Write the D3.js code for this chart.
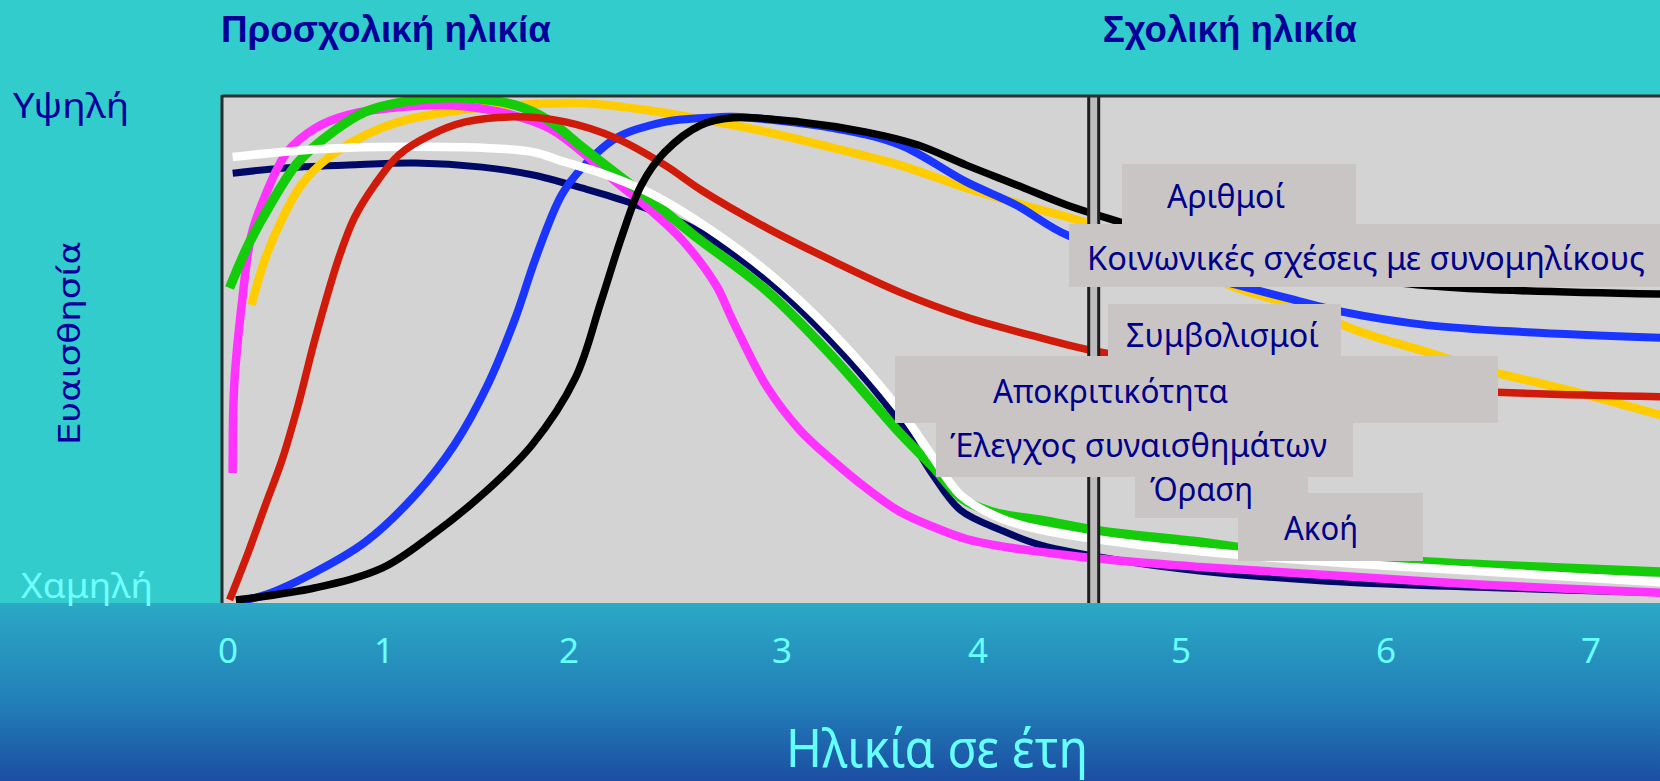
<!DOCTYPE html>
<html>
<head>
<meta charset="utf-8">
<script src="https://cdn.jsdelivr.net/npm/d3@7"></script>
<style>
html, body { margin: 0; padding: 0; overflow: hidden; background: #33cccc; }
</style>
</head>
<body>
<svg id="chart"></svg>
<script>
// ---- data (age in years, sensitivity 0 = low .. 100 = high) ----
var ageTicks = [0, 1, 2, 3, 4, 5, 6, 7];
var schoolAge = 4.57;
var periodTitles = ['Προσχολική ηλικία', 'Σχολική ηλικία'];
var levelLabels = ['Υψηλή', 'Χαμηλή'];
var yTitle = 'Ευαισθησία';
var xTitle = 'Ηλικία σε έτη';
var noteTexts = ['Αριθμοί', 'Κοινωνικές σχέσεις με συνομηλίκους', 'Συμβολισμοί',
    'Αποκριτικότητα', 'Έλεγχος συναισθημάτων', 'Όραση', 'Ακοή'];

var navy = [[0.03,84.6],[0.35,85.6],[0.77,86.2],[1.17,86.6],[1.53,85.8],[1.80,84.3],[2.06,81.7],
    [2.30,78.6],[2.58,73.8],[2.93,63.6],[3.26,51.2],[3.60,35.6],[3.77,25.2],[3.91,18.3],[4.11,14.4],
    [4.31,11.4],[4.76,8.0],[5.09,6.3],[5.71,4.3],[6.52,3.0],[7.34,2.0]];
var white = [[0.03,87.8],[0.35,88.8],[0.77,89.6],[1.17,89.8],[1.53,89.6],[1.80,88.8],[1.98,86.8],
    [2.14,84.8],[2.37,80.9],[2.58,75.8],[2.93,65.2],[3.26,53.1],[3.60,38.0],[3.77,28.7],[3.91,21.3],
    [4.11,16.7],[4.31,14.4],[4.76,11.6],[5.09,10.2],[5.71,8.1],[6.52,6.1],[7.34,4.1]];
var yellow = [[0.15,58.7],[0.24,67.9],[0.35,75.8],[0.47,82.3],[0.64,87.6],[0.88,92.1],[1.08,94.7],
    [1.35,96.7],[1.71,98.0],[2.06,98.4],[2.37,97.0],[2.69,94.7],[2.93,92.7],[3.26,89.6],[3.60,86.2],
    [3.94,81.7],[4.27,77.8],[4.52,75.0],[5.30,61.6],[5.55,58.7],[5.88,53.3],[6.20,49.4],[6.52,45.5],
    [6.85,42.3],[7.34,37.0]];
var blue = [[0.08,0.4],[0.24,1.6],[0.56,6.1],[0.88,12.0],[1.17,21.3],[1.38,31.1],[1.56,42.9],
    [1.71,56.1],[1.82,67.9],[1.96,80.3],[2.06,85.6],[2.22,91.5],[2.45,94.7],[2.65,95.5],[2.77,95.7],
    [3.26,93.5],[3.60,90.2],[3.94,82.9],[4.19,78.3],[4.44,72.4],[5.00,65.6],[5.52,60.0],[5.79,57.3],
    [6.20,54.7],[6.69,53.3],[7.34,52.2]];
var magenta = [[0.03,25.6],[0.04,42.9],[0.09,59.3],[0.15,72.4],[0.24,80.3],[0.38,88.8],[0.56,93.5],
    [0.77,96.1],[1.08,97.6],[1.35,98.0],[1.62,96.7],[1.89,93.5],[2.06,88.8],[2.22,82.9],[2.37,77.8],
    [2.53,71.5],[2.69,62.6],[2.77,55.5],[2.93,42.5],[3.09,34.1],[3.26,28.0],[3.43,22.6],[3.60,18.0],
    [3.77,15.0],[3.94,12.6],[4.11,11.2],[4.44,9.4],[4.76,8.1],[5.09,7.1],[5.71,5.5],[6.52,3.5],[7.34,2.0]];
var green = [[0.01,62.0],[0.13,70.5],[0.28,78.9],[0.45,86.8],[0.67,92.7],[0.88,96.7],[1.17,99.0],
    [1.44,99.4],[1.71,98.0],[1.89,95.0],[2.06,89.8],[2.22,84.6],[2.40,78.8],[2.58,72.6],[2.93,61.4],
    [3.26,48.4],[3.60,33.5],[3.77,26.8],[3.91,20.8],[4.07,17.9],[4.31,16.3],[4.60,14.2],[5.09,12.0],
    [5.27,11.0],[6.18,8.1],[6.85,6.9],[7.34,6.1]];
var red = [[0.01,0.6],[0.13,10.0],[0.24,19.3],[0.35,28.5],[0.45,39.0],[0.56,52.2],[0.71,67.9],
    [0.81,75.8],[0.94,82.3],[1.08,88.2],[1.25,92.1],[1.44,94.7],[1.71,95.7],[1.98,94.7],[2.22,91.5],
    [2.45,86.2],[2.62,81.3],[2.93,73.8],[3.26,67.3],[3.60,61.2],[3.94,56.3],[4.31,52.2],[4.60,49.4],
    [5.58,43.9],[6.54,41.5],[7.34,40.6]];
var black = [[0.05,0.6],[0.56,3.0],[0.99,6.9],[1.26,13.4],[1.53,21.3],[1.80,31.1],[2.03,44.3],
    [2.15,59.3],[2.25,72.4],[2.34,82.3],[2.45,88.8],[2.62,94.1],[2.77,95.5],[3.09,94.7],[3.43,92.7],
    [3.69,90.2],[3.94,86.2],[4.19,82.3],[4.44,78.3],[4.70,75.0],[5.34,67.5],[6.07,63.0],[6.46,61.8],
    [7.34,60.8]];

// ---- layout ----
var W = 1660, H = 781;
var plot = {left: 222, top: 95, right: 1660, bottom: 603};
var tickPx = [228, 384, 569, 782, 978, 1181, 1386, 1591];   // tick spacing in the slide is uneven

var series = [
    {values: navy,    color: '#000a66', width: 7},
    {values: yellow,  color: '#ffcc00', width: 8.5},
    {values: blue,    color: '#1a35ff', width: 8},
    {values: magenta, color: '#ff33ff', width: 8.5},
    {values: green,   color: '#14cc0a', width: 9.5},
    {values: white,   color: '#ffffff', width: 8.5},
    {values: red,     color: '#d01a0a', width: 7.5},
    {values: black,   color: '#000000', width: 7.5}
];

// label boxes on the slide: [x, y, w, h, textX, baseline, textWidth]
var noteBoxes = [
    [1122, 164, 234, 60, 1167, 208, 118],
    [1069, 224, 591, 63, 1087, 270, 558],
    [1108, 304, 233, 52, 1126, 347, 193],
    [895, 356, 603, 67, 993, 403, 235],
    [936, 422, 417, 55, 950, 457, 377],
    [1135, 477, 173, 41, 1150, 501, 103],
    [1238, 493, 185, 68, 1284, 540, 74]
];

var svg = d3.select('#chart').attr('width', W).attr('height', H);
var defs = svg.append('defs');

var grad = defs.append('linearGradient').attr('id', 'bottomGrad')
    .attr('x1', 0).attr('y1', 0).attr('x2', 0).attr('y2', 1);
grad.append('stop').attr('offset', '0%').attr('stop-color', '#2ba9c5');
grad.append('stop').attr('offset', '55%').attr('stop-color', '#2280b8');
grad.append('stop').attr('offset', '100%').attr('stop-color', '#1b4ea3');

defs.append('clipPath').attr('id', 'plotClip').append('rect')
    .attr('x', plot.left).attr('y', plot.top + 2)
    .attr('width', plot.right - plot.left).attr('height', plot.bottom - plot.top - 2);

// background
svg.append('rect').attr('width', W).attr('height', H).attr('fill', '#33cccc');
svg.append('rect').attr('x', 0).attr('y', plot.bottom).attr('width', W).attr('height', H - plot.bottom)
    .attr('fill', 'url(#bottomGrad)');

var x = d3.scaleLinear().domain(ageTicks).range(tickPx);
var y = d3.scaleLinear().domain([0, 100]).range([plot.bottom, plot.top]);

// plot area
svg.append('rect')
    .attr('x', plot.left).attr('y', plot.top)
    .attr('width', plot.right - plot.left).attr('height', plot.bottom - plot.top)
    .attr('fill', '#d3d3d3');

var line = d3.line()
    .x(function(d) { return x(d[0]); })
    .y(function(d) { return y(d[1]); })
    .curve(d3.curveCatmullRom.alpha(0.5));

svg.append('g').attr('clip-path', 'url(#plotClip)')
    .selectAll('path')
    .data(series)
    .join('path')
    .attr('d', function(d) { return line(d.values); })
    .attr('fill', 'none')
    .attr('stroke', function(d) { return d.color; })
    .attr('stroke-width', function(d) { return d.width; })
    .attr('stroke-linejoin', 'round');

// school age divider (double line)
var xd = x(schoolAge);
svg.append('rect').attr('x', xd - 6).attr('y', plot.top).attr('width', 12)
    .attr('height', plot.bottom - plot.top).attr('fill', '#bcbcbc');
[xd - 5, xd + 5].forEach(function(xx) {
    svg.append('line').attr('x1', xx).attr('x2', xx).attr('y1', plot.top).attr('y2', plot.bottom)
        .attr('stroke', '#1e1e1e').attr('stroke-width', 3);
});

// frame
svg.append('line').attr('x1', plot.left).attr('x2', plot.right).attr('y1', plot.top + 1).attr('y2', plot.top + 1)
    .attr('stroke', '#2e2e2e').attr('stroke-width', 3);
svg.append('line').attr('x1', plot.left).attr('x2', plot.left).attr('y1', plot.top).attr('y2', plot.bottom)
    .attr('stroke', '#2a2a2a').attr('stroke-width', 3);

// label boxes
svg.append('g').selectAll('rect')
    .data(noteBoxes)
    .join('rect')
    .attr('x', function(d) { return d[0]; })
    .attr('y', function(d) { return d[1]; })
    .attr('width', function(d) { return d[2]; })
    .attr('height', function(d) { return d[3]; })
    .attr('fill', '#c9c5c5');

svg.append('g').selectAll('text')
    .data(noteBoxes)
    .join('text')
    .attr('x', function(d) { return d[4]; })
    .attr('y', function(d) { return d[5]; })
    .attr('textLength', function(d) { return d[6]; })
    .attr('lengthAdjust', 'spacingAndGlyphs')
    .attr('font-family', '"Noto Sans", "Open Sans", sans-serif')
    .attr('font-size', 32)
    .attr('fill', '#000088')
    .text(function(d, i) { return noteTexts[i]; });

// period titles
var titleFont = '"Liberation Sans Narrow", "Liberation Sans", Arial, sans-serif';
svg.append('text').attr('x', plot.left - 1).attr('y', 42)
    .attr('textLength', 330).attr('lengthAdjust', 'spacingAndGlyphs')
    .attr('font-family', titleFont).attr('font-weight', 'bold').attr('font-size', 36)
    .attr('fill', '#000099').text(periodTitles[0]);
svg.append('text').attr('x', xd + 9).attr('y', 42)
    .attr('textLength', 254).attr('lengthAdjust', 'spacingAndGlyphs')
    .attr('font-family', titleFont).attr('font-weight', 'bold').attr('font-size', 36)
    .attr('fill', '#000099').text(periodTitles[1]);

// y side labels
var bodyFont = '"Noto Sans", "Open Sans", sans-serif';
svg.append('text').attr('x', 13).attr('y', 118)
    .attr('textLength', 116).attr('lengthAdjust', 'spacingAndGlyphs')
    .attr('font-family', bodyFont).attr('font-size', 34)
    .attr('fill', '#000099').text(levelLabels[0]);
svg.append('text').attr('x', 21).attr('y', 598)
    .attr('textLength', 132).attr('lengthAdjust', 'spacingAndGlyphs')
    .attr('font-family', bodyFont).attr('font-size', 34)
    .attr('fill', '#70ffff').text(levelLabels[1]);
svg.append('text')
    .attr('transform', 'translate(80,343) rotate(-90)')
    .attr('text-anchor', 'middle')
    .attr('textLength', 204).attr('lengthAdjust', 'spacingAndGlyphs')
    .attr('font-family', '"DejaVu Sans", Verdana, sans-serif').attr('font-size', 30)
    .attr('fill', '#000099').text(yTitle);

// x tick labels
svg.append('g').selectAll('text')
    .data(ageTicks)
    .join('text')
    .attr('x', function(d) { return x(d); })
    .attr('y', 663)
    .attr('text-anchor', 'middle')
    .attr('font-family', bodyFont).attr('font-size', 35)
    .attr('fill', '#66ffff')
    .text(function(d) { return d; });

svg.append('text').attr('x', 786).attr('y', 767)
    .attr('textLength', 302).attr('lengthAdjust', 'spacingAndGlyphs')
    .attr('font-family', bodyFont).attr('font-size', 52)
    .attr('fill', '#66ffff').text(xTitle);
</script>
</body>
</html>
